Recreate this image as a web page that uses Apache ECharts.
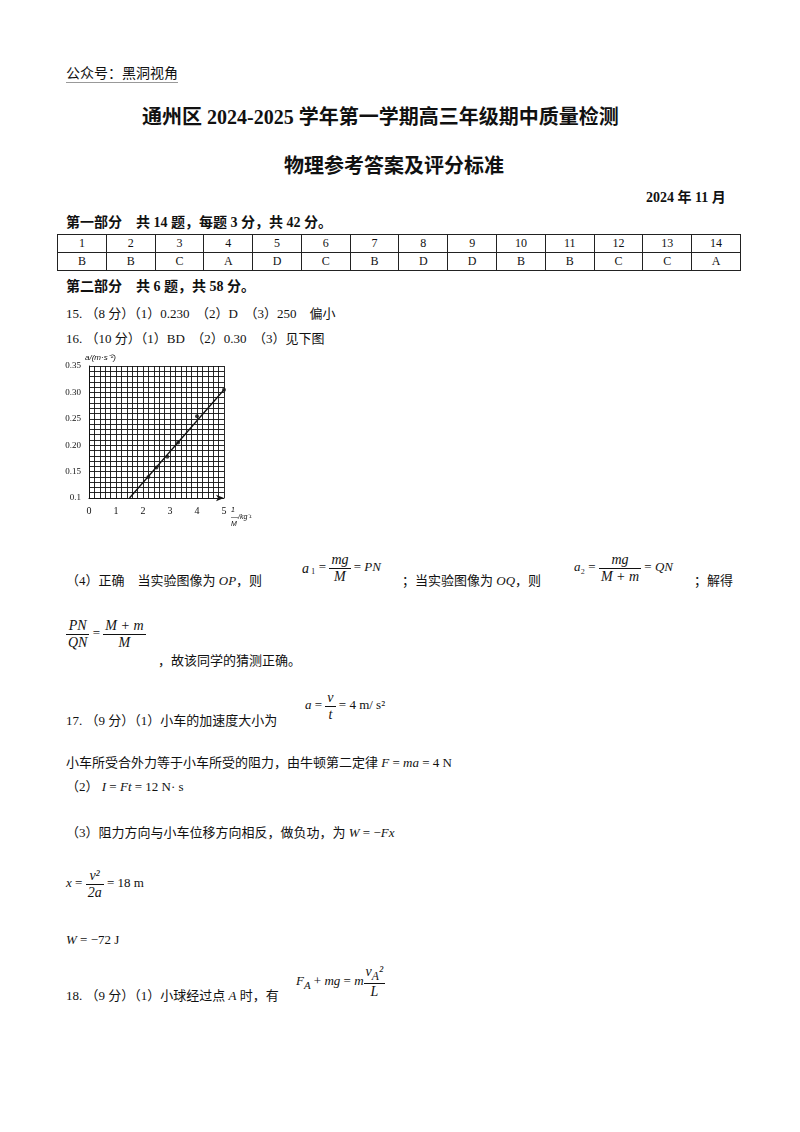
<!DOCTYPE html><html><head><meta charset="utf-8">
<script src="https://cdn.jsdelivr.net/npm/echarts@6/dist/echarts.min.js"></script>
<style>
body{margin:0;width:800px;height:1132px;background:#fff;font-family:"Liberation Serif","Noto Sans CJK SC";color:#111;position:relative}
.a{position:absolute;white-space:nowrap;font-size:13px}
.m{font-family:"Liberation Serif";font-style:italic}
table{border-collapse:collapse;position:absolute;left:57px;top:234px;width:684px;font-size:12px;table-layout:fixed}
td{border:1px solid #222;text-align:center;height:17px;padding:0}
.f{display:inline-block;vertical-align:middle;text-align:center;font-family:"Liberation Serif";font-style:italic;font-size:14px}
.f span{display:block;padding:0 2px}.f .n{border-bottom:1px solid #111}
</style></head><body>
<div class="a" style="left:66px;top:62px;font-size:14px;border-bottom:1px solid #999">公众号：黑洞视角</div>
<div class="a" style="left:142px;top:101px;font-size:20px;font-weight:bold">通州区 2024-2025 学年第一学期高三年级期中质量检测</div>
<div class="a" style="left:284px;top:150px;font-size:20px;font-weight:bold">物理参考答案及评分标准</div>
<div class="a" style="left:646px;top:186px;font-size:14px;font-weight:bold">2024 年 11 月</div>
<div class="a" style="left:66px;top:211px;font-size:14px;font-weight:bold">第一部分　共 14 题，每题 3 分，共 42 分。</div>
<table id="t"></table>
<div class="a" style="left:66px;top:275px;font-size:14px;font-weight:bold">第二部分　共 6 题，共 58 分。</div>
<div class="a" style="left:66px;top:303px">15. （8 分）（1）0.230　（2）D　（3）250　偏小</div>
<div class="a" style="left:66px;top:328px">16. （10 分）（1）BD　（2）0.30　（3）见下图</div>
<div id="c" style="position:absolute;left:0;top:340px;width:800px;height:190px"></div>
<div class="a" style="left:66px;top:570px">（4）正确　当实验图像为 <i>OP</i>，则</div>
<div class="a" style="left:300px;top:552px"><span class="f"><span class="m">a</span></span>₁ = <span class="f"><span class="n">mg</span><span>M</span></span> = <i>PN</i></div>
<div class="a" style="left:402px;top:570px">；当实验图像为 <i>OQ</i>，则</div>
<div class="a" style="left:574px;top:552px"><i>a</i>₂ = <span class="f"><span class="n">mg</span><span>M + m</span></span> = <i>QN</i></div>
<div class="a" style="left:694px;top:570px">；解得</div>
<div class="a" style="left:66px;top:618px"><span class="f"><span class="n">PN</span><span>QN</span></span> = <span class="f"><span class="n">M + m</span><span>M</span></span></div>
<div class="a" style="left:158px;top:650px">，故该同学的猜测正确。</div>
<div class="a" style="left:66px;top:710px">17. （9 分）（1）小车的加速度大小为</div>
<div class="a" style="left:305px;top:690px"><i>a</i> = <span class="f"><span class="n">v</span><span>t</span></span> = 4 m/ s²</div>
<div class="a" style="left:66px;top:752px">小车所受合外力等于小车所受的阻力，由牛顿第二定律 <i>F</i> = <i>ma</i> = 4 N</div>
<div class="a" style="left:66px;top:776px">（2） <i>I</i> = <i>Ft</i> = 12 N· s</div>
<div class="a" style="left:66px;top:822px">（3）阻力方向与小车位移方向相反，做负功，为 <i>W</i> = −<i>Fx</i></div>
<div class="a" style="left:66px;top:868px"><i>x</i> = <span class="f"><span class="n">v²</span><span>2a</span></span> = 18 m</div>
<div class="a" style="left:66px;top:932px"><i>W</i> = −72 J</div>
<div class="a" style="left:66px;top:985px">18. （9 分）（1）小球经过点 <i>A</i> 时，有</div>
<div class="a" style="left:296px;top:964px"><i>F<sub>A</sub></i> + <i>mg</i> = <i>m</i><span class="f"><span class="n">v<sub>A</sub>²</span><span>L</span></span></div>
<script>
const questions=['1','2','3','4','5','6','7','8','9','10','11','12','13','14'];
const answers=['B','B','C','A','D','C','B','D','D','B','B','C','C','A'];
document.getElementById('t').innerHTML='<tr>'+questions.map(q=>'<td>'+q+'</td>').join('')+'</tr><tr>'+answers.map(a=>'<td>'+a+'</td>').join('')+'</tr>';
const invM=[2.2,2.5,2.9,3.3,4.0,5.0];
const accel=[0.14,0.158,0.178,0.205,0.255,0.305];
const fitLine=[[1.5,0.1],[5.0,0.305]];
const xTicks=[0,1,2,3,4,5];
const yTicks=[0.1,0.15,0.2,0.25,0.3,0.35];
const ch=echarts.init(document.getElementById('c'));
ch.setOption({animation:false,
grid:{left:89,right:576,top:26,bottom:32,containLabel:false},
xAxis:{type:'value',min:0,max:5,interval:0.2,
 axisLine:{show:true,lineStyle:{color:'#111'},symbol:['none','arrow'],symbolSize:[5,8]},
 axisTick:{show:false},
 axisLabel:{color:'#111',fontSize:10,fontFamily:'Liberation Serif',formatter:v=>xTicks.includes(Math.round(v*100)/100)?String(Math.round(v)):''},
 splitLine:{show:true,lineStyle:{color:'#111',width:0.9}}},
yAxis:{type:'value',min:0.1,max:0.35,interval:0.01,
 name:'a/(m·s⁻²)',nameGap:4,nameTextStyle:{color:'#111',fontSize:8,fontStyle:'italic',align:'left',padding:[0,0,0,-4]},
 axisLine:{show:true,lineStyle:{color:'#111'}},axisTick:{show:false},
 axisLabel:{color:'#111',fontSize:9,fontFamily:'Liberation Serif',formatter:v=>{const r=Math.round(v*100)/100;return yTicks.some(t=>Math.abs(t-r)<1e-6)?(r===0.1?'0.1':r.toFixed(2)):'';}},
 splitLine:{show:true,lineStyle:{color:'#111',width:0.9}}},
graphic:[{type:'text',left:231,top:167,style:{text:'1\n—/kg⁻¹\nM',fontSize:7,fill:'#111',fontStyle:'italic'}}],
series:[{type:'line',data:fitLine,symbol:'none',lineStyle:{color:'#111',width:1.3}},
{type:'scatter',data:invM.map((x,i)=>[x,accel[i]]),symbolSize:4,itemStyle:{color:'#111'},z:5}]
});
</script></body></html>
